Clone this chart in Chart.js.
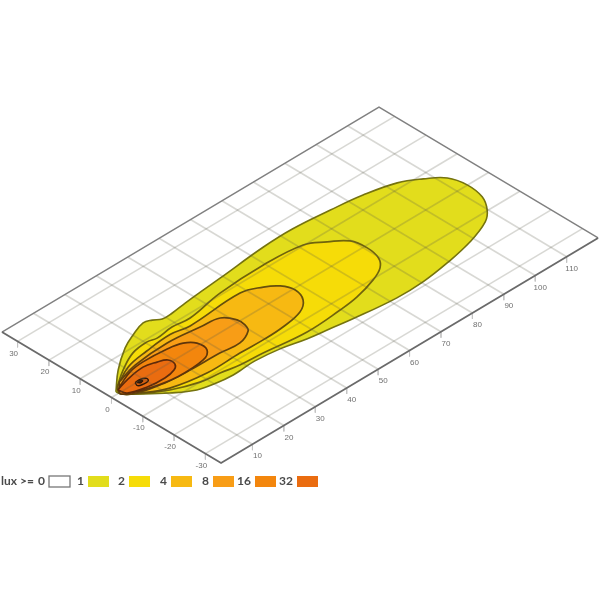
<!DOCTYPE html>
<html>
<head>
<meta charset="utf-8">
<title>lux plot</title>
<script src="https://cdn.jsdelivr.net/npm/chart.js@4/dist/chart.umd.min.js"></script>
<style>
  html, body { margin: 0; padding: 0; background: #fff; }
  #wrap { position: relative; width: 600px; height: 600px; }
  /* the source picture is a soft scan */
  #chart { filter: blur(0.45px); }
</style>
</head>
<body>
<div id="wrap"><canvas id="chart" width="600" height="600"></canvas></div>
<script>
// axis ticks (metres)
const distanceTicks = [10, 20, 30, 40, 50, 60, 70, 80, 90, 100, 110];
const lateralTicks = [-30, -20, -10, 0, 10, 20, 30];
const distanceRange = [0, 120];
const lateralRange = [-35, 35];

// isolux contours as [distance, lateral]
const contour1 = [[2.2,0.8],[8.4,6.3],[15.4,11.1],[20.1,13.3],[24.9,14.9],[27.1,14.2],[29,12.9],[32.2,12.9],[36.9,13.5],[43.2,14.1],[49.1,14.6],[64.3,16],[73.7,16.2],[84.8,15.2],[94,14],[102.7,11.8],[107.9,8.7],[112,5.1],[113.3,0.1],[112.5,-5.5],[109.8,-9.8],[106.3,-12.7],[98.6,-15.6],[89.3,-17.6],[80.4,-18.8],[72,-18.9],[59.4,-17.5],[53.1,-16.5],[46.7,-15.5],[39.8,-13.9],[32.6,-13.1],[28.5,-13.3],[25.4,-13.4],[20.7,-12.9],[15.6,-11.6],[10.5,-8.1],[5.5,-3.6],[2.4,-0.3],[2.2,0.8]];
const contour2 = [[3.4,1.7],[9.2,5.5],[15.3,8.5],[20.5,9.2],[23.1,8.6],[28.4,9.2],[33.7,8.7],[45.1,10.6],[59.5,11.2],[71.2,10.2],[75.8,7.2],[79.7,3.8],[80.6,-0.8],[79.7,-5.3],[77.3,-8.2],[73,-10.3],[65.9,-12.3],[59.7,-13.1],[48.6,-13.7],[36,-12.3],[29.1,-11.8],[23.8,-10.8],[18.2,-10],[11.3,-7.3],[5.6,-3.5],[2.4,-0.3],[3.4,1.7]];
const contour4 = [[4.1,2.1],[10.8,5.5],[18,6.8],[26.1,7.5],[31.6,6.6],[48.3,7.4],[53.6,5.3],[56.6,2.9],[57.9,-0.6],[56.5,-4.5],[52.8,-7.2],[46.1,-8.5],[39.5,-8.8],[32.3,-8.6],[21.7,-8.7],[11.8,-6.8],[5.7,-3.3],[2.4,-0.3],[4.1,2.1]];
const contour8 = [[5.3,2.9],[12.4,4.9],[23.4,5.7],[32.9,4.7],[38.5,3.9],[40.7,0.7],[40.6,-1.9],[39.5,-4],[35,-5.9],[29.1,-5.4],[19.8,-5.2],[12.4,-4.6],[6,-3.1],[2.7,-0.6],[5.3,2.9]];
const contour16 = [[4.4,1.7],[9.8,3.9],[14.5,4.5],[21.8,4.1],[25.9,3.1],[28.1,0.9],[27.9,-2.5],[24.6,-4.6],[15.9,-5],[8.7,-3.6],[4.2,-1.8],[2.4,-0.3],[4.4,1.7]];
const contour32 = [[3,1],[7.1,2.2],[13.1,3.1],[16.7,2.2],[19,1],[19,-1.2],[17.3,-2.6],[13.7,-3.3],[8.5,-2.9],[3.7,-1.3],[3,1]];
const contour64 = [[7.7,0.2],[9.4,0.3],[10.7,-0.5],[10.3,-1.4],[8.6,-1.5],[7.3,-1],[7.7,0.2]];
const contour128 = [[8,-0.1],[9.1,0.1],[9.5,-0.5],[8.6,-0.8],[8,-0.1]];

// legend
const legendLevels = ['0', '1', '2', '4', '8', '16', '32'];
const legendColors = ['#ffffff', '#e2dd1c', '#f6dc08', '#f7b912', '#f89d16', '#f3860d', '#ea6c10'];

// the plot is an oblique view, so world coords are projected onto a flat 600x600 scale
function project(d, l) {
  return { x: 111.5 + 3.142 * d - 3.13 * l, y: 397.5 - 1.875 * d - 1.87 * l };
}
function path(pts) {
  return pts.map(p => project(p[0], p[1]));
}

let datasets = [];
let order = 100;

function addContour(pts, fillColor, lineColor, width) {
  datasets.push({
    data: path(pts),
    showLine: true,
    fill: 'shape',
    backgroundColor: fillColor,
    borderColor: lineColor,
    borderWidth: width,
    tension: 0.4,
    pointRadius: 0,
    order: order--
  });
}
function addLine(pts, color, width) {
  datasets.push({
    data: path(pts),
    showLine: true,
    fill: false,
    borderColor: color,
    borderWidth: width,
    tension: 0,
    pointRadius: 0,
    order: order--
  });
}

addContour(contour1, legendColors[1], '#75730f', 1.6);
addContour(contour2, legendColors[2], '#70640c', 1.7);
addContour(contour4, legendColors[3], '#66500c', 1.7);
addContour(contour8, legendColors[4], '#62420c', 1.7);
addContour(contour16, legendColors[5], '#5e340a', 1.7);
addContour(contour32, legendColors[6], '#5e2a0a', 1.7);
addContour(contour64, '#d9600f', '#301806', 1.4);
addContour(contour128, '#3c1c06', '#1a0e04', 1);

// grid goes over the fills so it shows through them
const gridColor = 'rgba(90,90,75,0.24)';
distanceTicks.forEach(d => addLine([[d, lateralRange[0]], [d, lateralRange[1]]], gridColor, 1.6));
lateralTicks.forEach(l => addLine([[distanceRange[0], l], [distanceRange[1], l]], gridColor, 1.6));

// small tick marks hanging off the two front edges
distanceTicks.forEach(d => addLine([[d, lateralRange[0]], [d - 1.6, lateralRange[0] - 1.6]], '#c4c4c4', 1));
lateralTicks.forEach(l => addLine([[distanceRange[0], l], [distanceRange[0] - 1.6, l - 1.6]], '#c4c4c4', 1));

// frame
addLine([[distanceRange[0], lateralRange[1]], [distanceRange[1], lateralRange[1]], [distanceRange[1], lateralRange[0]]], '#808080', 1.4);
addLine([[distanceRange[0], lateralRange[1]], [distanceRange[0], lateralRange[0]], [distanceRange[1], lateralRange[0]]], '#6a6a6a', 1.9);

const labelsPlugin = {
  id: 'labelsPlugin',
  afterDraw(chart) {
    const ctx = chart.ctx;
    ctx.save();
    ctx.textAlign = 'center';
    ctx.textBaseline = 'middle';
    ctx.font = '8px "Liberation Sans"';
    ctx.fillStyle = '#707070';
    distanceTicks.forEach(d => {
      const p = project(d, lateralRange[0]);
      ctx.fillText(String(d), p.x + 5, p.y + 12);
    });
    lateralTicks.forEach(l => {
      const p = project(distanceRange[0], l);
      ctx.fillText(String(l), p.x - 4, p.y + 12);
    });

    // legend: number first, then its swatch
    const boxX = [49, 88, 129, 171, 213, 255, 297];
    ctx.font = 'bold 12px Lato';
    ctx.textAlign = 'left';
    ctx.fillStyle = '#4a4a4a';
    ctx.fillText('lux >=', 1, 481);
    ctx.textAlign = 'right';
    legendLevels.forEach((lev, i) => {
      ctx.fillStyle = '#4a4a4a';
      ctx.fillText(lev, boxX[i] - 4, 481);
      ctx.fillStyle = legendColors[i];
      ctx.fillRect(boxX[i], 476, 21, 11);
      if (i === 0) {
        ctx.strokeStyle = '#777777';
        ctx.lineWidth = 1.3;
        ctx.strokeRect(boxX[i], 476, 21, 11);
      }
    });
    ctx.restore();
  }
};

new Chart(document.getElementById('chart'), {
  type: 'scatter',
  data: { datasets: datasets },
  options: {
    responsive: false,
    animation: false,
    layout: { padding: 0 },
    plugins: { legend: { display: false }, tooltip: { enabled: false } },
    scales: {
      x: { type: 'linear', min: 0, max: 600, display: false },
      y: { type: 'linear', min: 0, max: 600, reverse: true, display: false }
    }
  },
  plugins: [labelsPlugin]
});
</script>
</body>
</html>
